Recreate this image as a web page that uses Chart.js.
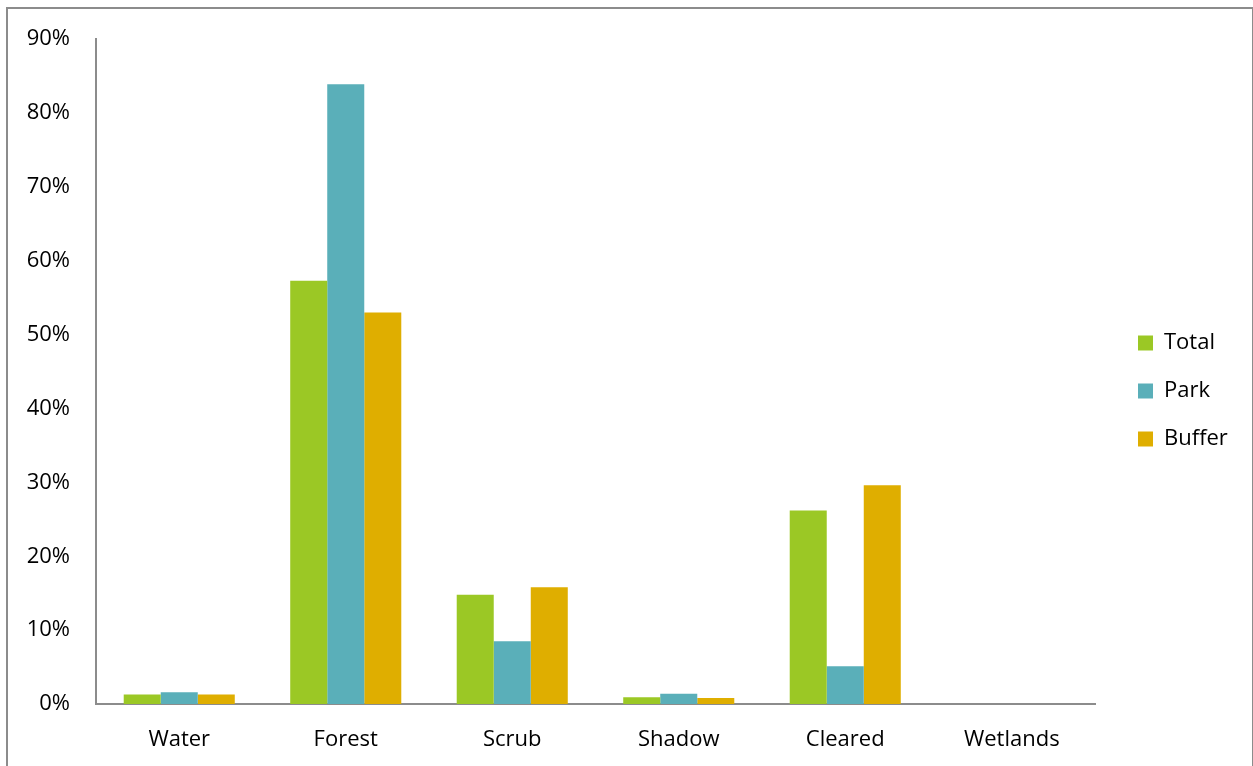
<!DOCTYPE html>
<html><head><meta charset="utf-8">
<script src="https://cdn.jsdelivr.net/npm/chart.js@4/dist/chart.umd.min.js"></script>
<style>
html,body{margin:0;padding:0;background:#fff;}
#wrap{position:relative;width:1253px;height:766px;}
#frame{position:absolute;left:6px;top:7px;width:1244px;height:780px;border:2px solid #8c8c8c;pointer-events:none;}
canvas{position:absolute;left:0;top:0;}
</style></head>
<body>
<div id="wrap"><canvas id="c" width="1253" height="766"></canvas><div id="frame"></div></div>
<script>
const categories = ["Water","Forest","Scrub","Shadow","Cleared","Wetlands"];
const totalValues  = [1.3, 57.3, 14.8, 0.9, 26.2, 0];
const parkValues   = [1.6, 83.9, 8.5, 1.4, 5.1, 0];
const bufferValues = [1.3, 53.0, 15.8, 0.8, 29.6, 0];
const seriesNames = ["Total","Park","Buffer"];
const yTicks = [0,10,20,30,40,50,60,70,80,90];

const FONT = "'Open Sans', 'Liberation Sans', sans-serif";
Chart.defaults.font.family = FONT;
Chart.defaults.color = '#000';

const legendPlace = {
  id: 'legendPlace',
  beforeInit(chart) {
    const L = chart.legend;
    if (!L) return;
    const origFit = L.fit.bind(L);
    L.fit = function () { origFit(); this.width = 158; };
  },
  afterLayout(chart) {
    const L = chart.legend;
    const dx = 1138 - (L.left + L.options.labels.padding);
    L.left += dx; L.right += dx;
    L.top -= 11; L.bottom -= 11;
  }
};

new Chart(document.getElementById('c'), {
  type: 'bar',
  data: {
    labels: categories,
    datasets: [
      {label: seriesNames[0], data: totalValues, backgroundColor: '#9bc825'},
      {label: seriesNames[1], data: parkValues, backgroundColor: '#5aafb9'},
      {label: seriesNames[2], data: bufferValues, backgroundColor: '#dfae00'}
    ]
  },
  plugins: [legendPlace],
  options: {
    responsive: false,
    animation: false,
    layout: {padding: {top: 38, left: 0, right: 0, bottom: 0}},
    datasets: {bar: {categoryPercentage: 0.667, barPercentage: 1.0, borderWidth: 0}},
    plugins: {
      legend: {
        position: 'right',
        labels: {boxWidth: 15, boxHeight: 15, padding: 26, font: {size: 22, family: FONT}, color: '#000'}
      },
      tooltip: {enabled: false}
    },
    scales: {
      x: {
        grid: {display: false, drawTicks: false},
        border: {color: '#8c8c8c', width: 2},
        ticks: {font: {size: 22, family: FONT}, padding: 23, color: '#000'},
        afterFit: s => { s.height = 62; }
      },
      y: {
        min: 0, max: 90,
        afterBuildTicks: s => { s.ticks = yTicks.map(v => ({value: v})); },
        grid: {display: false, drawTicks: false},
        border: {color: '#8c8c8c', width: 2},
        ticks: {font: {size: 22, family: FONT}, padding: 26, color: '#000', callback: v => v + '%'},
        afterFit: s => { s.width = 96; }
      }
    }
  }
});
</script>
</body></html>
